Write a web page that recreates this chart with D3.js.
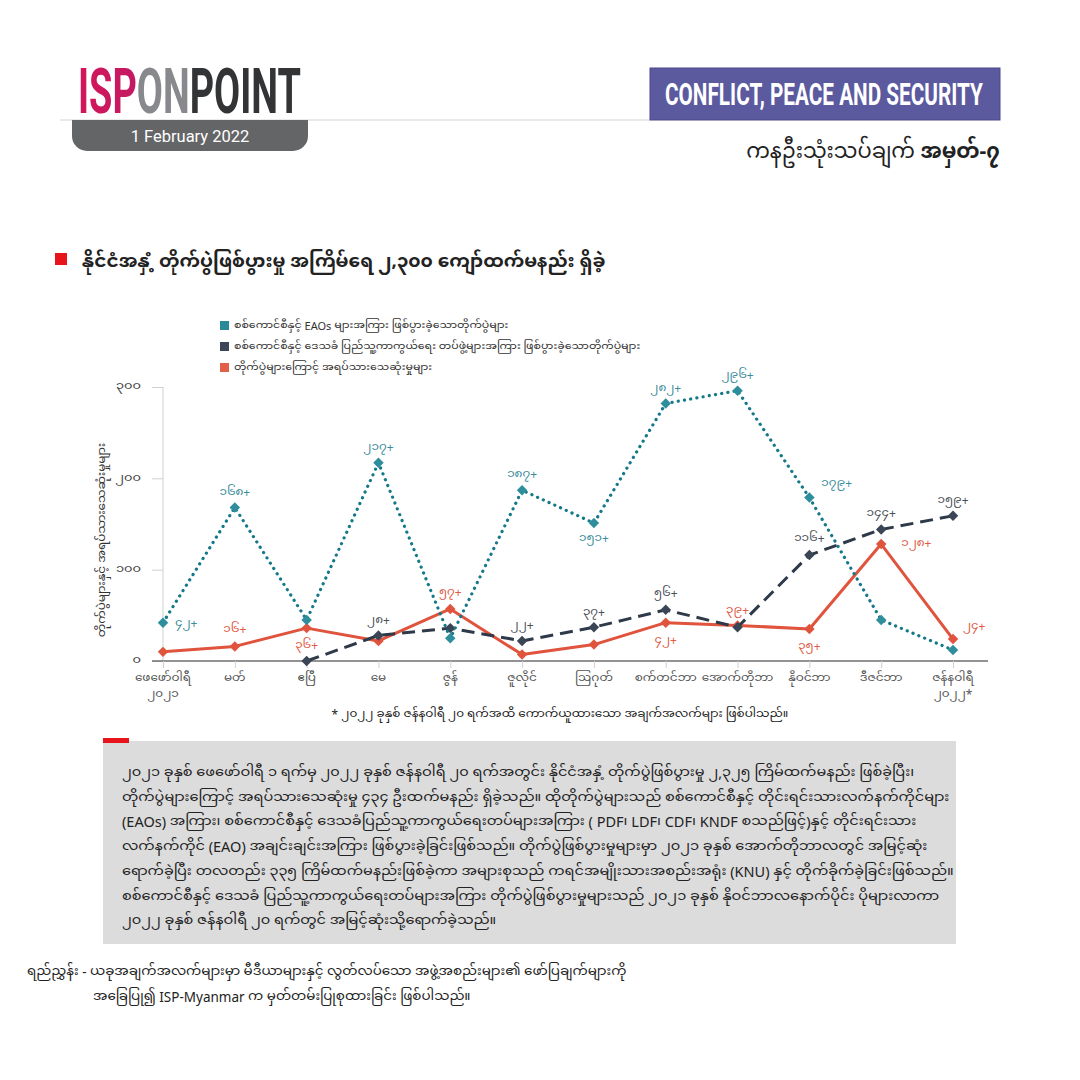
<!DOCTYPE html>
<html><head><meta charset="utf-8">
<script src="https://cdn.jsdelivr.net/npm/d3@7/dist/d3.min.js"></script>
<style>
html,body{margin:0;padding:0;background:#fff;}
svg{display:block;}
</style></head>
<body>
<svg id="c" width="1080" height="1080"></svg>
<script>
// ---------- data ----------
const months = ["ဖေဖော်ဝါရီ|၂၀၂၁","မတ်","ဧပြီ","မေ","ဇွန်","ဇူလိုင်","ဩဂုတ်","စက်တင်ဘာ","အောက်တိုဘာ","နိုဝင်ဘာ","ဒီဇင်ဘာ","ဇန်နဝါရီ|၂၀၂၂*"];
const eaoClashes   = [42,168,45,217,25,187,151,282,296,179,45,12];
const pdfClashes   = [null,null,0,28,36,22,37,56,37,116,144,159];
const civDeaths    = [10,16,36,22,57,7,18,42,39,35,128,24];
// which points carry a value label (1 = labelled)
const eaoLabelled  = [1,1,0,1,0,1,1,1,1,1,0,0];
const pdfLabelled  = [0,0,0,1,0,1,1,1,0,1,1,1];
const civLabelled  = [0,1,1,0,1,0,0,1,1,1,1,1];
const yTicks = [0,100,200,300];
const legendItems = [
 "စစ်ကောင်စီနှင့် EAOs များအကြား ဖြစ်ပွားခဲ့သောတိုက်ပွဲများ",
 "စစ်ကောင်စီနှင့် ဒေသခံ ပြည်သူ့ကာကွယ်ရေး တပ်ဖွဲ့များအကြား  ဖြစ်ပွားခဲ့သောတိုက်ပွဲများ",
 "တိုက်ပွဲများကြောင့် အရပ်သားသေဆုံးမှုများ"
];
const paragraph = [
 "၂၀၂၁ ခုနှစ် ဖေဖော်ဝါရီ ၁ ရက်မှ ၂၀၂၂ ခုနှစ် ဇန်နဝါရီ ၂၀ ရက်အတွင်း နိုင်ငံအနှံ့ တိုက်ပွဲဖြစ်ပွားမှု ၂,၃၂၅ ကြိမ်ထက်မနည်း ဖြစ်ခဲ့ပြီး၊",
 "တိုက်ပွဲများကြောင့် အရပ်သားသေဆုံးမှု ၄၃၄ ဦးထက်မနည်း ရှိခဲ့သည်။ ထိုတိုက်ပွဲများသည် စစ်ကောင်စီနှင့် တိုင်းရင်းသားလက်နက်ကိုင်များ",
 "(EAOs) အကြား၊ စစ်ကောင်စီနှင့် ဒေသခံပြည်သူ့ကာကွယ်ရေးတပ်များအကြား ( PDF၊ LDF၊ CDF၊ KNDF စသည်ဖြင့်)နှင့် တိုင်းရင်းသား",
 "လက်နက်ကိုင် (EAO) အချင်းချင်းအကြား ဖြစ်ပွားခဲ့ခြင်းဖြစ်သည်။ တိုက်ပွဲဖြစ်ပွားမှုများမှာ  ၂၀၂၁ ခုနှစ် အောက်တိုဘာလတွင် အမြင့်ဆုံး",
 "ရောက်ခဲ့ပြီး တလတည်း ၃၃၅ ကြိမ်ထက်မနည်းဖြစ်ခဲ့ကာ အများစုသည် ကရင်အမျိုးသားအစည်းအရုံး (KNU) နှင့် တိုက်ခိုက်ခဲ့ခြင်းဖြစ်သည်။",
 "စစ်ကောင်စီနှင့် ဒေသခံ ပြည်သူ့ကာကွယ်ရေးတပ်များအကြား တိုက်ပွဲဖြစ်ပွားမှုများသည် ၂၀၂၁ ခုနှစ် နိုဝင်ဘာလနောက်ပိုင်း ပိုများလာကာ",
 "၂၀၂၂ ခုနှစ် ဇန်နဝါရီ ၂၀ ရက်တွင် အမြင့်ဆုံးသို့ရောက်ခဲ့သည်။"
];

const mmDigits = "၀၁၂၃၄၅၆၇၈၉";
const toMM = n => String(n).replace(/[0-9]/g, d => mmDigits[+d]);

const svg = d3.select("#c");
const MM = '"Noto Sans Myanmar","Padauk","Myanmar Text","Noto Sans",sans-serif';
const MMUI = '"Noto Sans Myanmar UI","Noto Sans Myanmar","Padauk","Myanmar Text",sans-serif';

function fitX(sel, x0, y0, width){
  const w = sel.node().getComputedTextLength();
  sel.attr("transform",`translate(${x0},${y0}) scale(${width/w},1)`);
}

// ---------- header ----------
const defs = svg.append("defs");
const g1 = defs.append("linearGradient").attr("id","ispg").attr("x1","0").attr("x2","1");
g1.append("stop").attr("offset","0").attr("stop-color","#d2175a");
g1.append("stop").attr("offset","1").attr("stop-color","#9c1f7c");

const logoFont = 'Roboto, "Liberation Sans", sans-serif';
const logo = svg.append("text").attr("font-family",logoFont).attr("font-weight",700).attr("font-size",63);
logo.append("tspan").attr("fill","url(#ispg)").text("ISP");
logo.append("tspan").attr("fill","#88898c").text("ON");
logo.append("tspan").attr("fill","#333436").text("POINT");
fitX(logo, 78, 113, 223);

svg.append("line").attr("x1",60).attr("x2",650).attr("y1",120).attr("y2",120).attr("stroke","#d4d4d4").attr("stroke-width",1);
svg.append("path").attr("d","M72,120 H308 V136 A15,15 0 0 1 293,151 H87 A15,15 0 0 1 72,136 Z")
  .attr("fill","#646567");
svg.append("text").attr("x",190).attr("y",142).attr("text-anchor","middle").attr("fill","#fff")
  .attr("font-family","Roboto, sans-serif").attr("font-size",16.5).text("1 February 2022");

svg.append("rect").attr("x",650).attr("y",68).attr("width",350).attr("height",52).attr("fill","#5c5a9f").attr("stroke","#4a4888").attr("stroke-width",1);
const cps = svg.append("text").attr("fill","#fff").attr("font-family",logoFont).attr("font-weight",700)
  .attr("font-size",31).text("CONFLICT, PEACE AND SECURITY");
fitX(cps, 665, 105, 318);

const sub = svg.append("text").attr("x",1000).attr("y",158).attr("text-anchor","end").attr("fill","#222")
  .attr("font-family",MM).attr("font-size",21);
sub.append("tspan").text("ကနဦးသုံးသပ်ချက် ");
sub.append("tspan").attr("font-weight",700).text("အမှတ်-၇");

// ---------- title ----------
svg.append("rect").attr("x",55).attr("y",253).attr("width",12).attr("height",12).attr("fill","#e8141c");
svg.append("text").attr("x",82).attr("y",267).attr("font-family",MM).attr("font-size",18.5).attr("font-weight",700).attr("fill","#222")
  .text("နိုင်ငံအနှံ့ တိုက်ပွဲဖြစ်ပွားမှု အကြိမ်ရေ ၂,၃၀၀ ကျော်ထက်မနည်း ရှိခဲ့");

// ---------- legend ----------
const legColors = ["#2a8a99","#3b4656","#e0604a"];
legendItems.forEach((t,i)=>{
  const y = 326 + i*21;
  svg.append("rect").attr("x",220).attr("y",y-5).attr("width",9).attr("height",9).attr("fill",legColors[i]);
  svg.append("text").attr("x",234).attr("y",y+4).attr("font-family",MMUI).attr("font-size",11).attr("fill","#333").text(t);
});

// ---------- chart ----------
const x = d3.scalePoint().domain(months).range([163,953]);
const y = d3.scaleLinear().domain([0,300]).range([661,387]);

const yAxis = d3.axisLeft(y).tickValues(yTicks).tickSize(11).tickFormat(d=>toMM(d));
const ya = svg.append("g").attr("transform","translate(163,0)").call(yAxis);
ya.select(".domain").attr("stroke","#d0d0d0").attr("d","M0,661V387");
ya.selectAll(".tick line").attr("stroke","#d0d0d0");
ya.selectAll(".tick text").attr("font-family",MMUI).attr("font-size",13).attr("fill","#444").attr("x",-22).attr("dy","0.3em");

const xAxis = d3.axisBottom(x).tickSize(7).tickFormat("");
const xa = svg.append("g").attr("transform","translate(0,661)").call(xAxis);
xa.select(".domain").attr("d","M152,0H988").attr("stroke","#6f6f6f").attr("stroke-width",1.5);
xa.selectAll(".tick line").attr("stroke","#d0d0d0");
months.forEach(m=>{
  const parts = m.split("|");
  svg.append("text").attr("x",x(m)).attr("y",683).attr("text-anchor","middle")
    .attr("font-family",MMUI).attr("font-size",12).attr("fill","#555").text(parts[0]);
  if(parts[1]) svg.append("text").attr("x",x(m)).attr("y",699).attr("text-anchor","middle")
    .attr("font-family",MMUI).attr("font-size",12).attr("fill","#555").text(parts[1]);
});

svg.append("text").attr("x",560).attr("y",719).attr("text-anchor","middle").attr("font-family",MMUI).attr("font-size",12).attr("fill","#222")
  .text("*  ၂၀၂၂ ခုနှစ် ဇန်နဝါရီ ၂၀ ရက်အထိ ကောက်ယူထားသော အချက်အလက်များ ဖြစ်ပါသည်။");

svg.append("text").attr("transform","translate(107,540) rotate(-90)").attr("text-anchor","middle")
  .attr("font-family",MMUI).attr("font-size",12).attr("fill","#333").text("တိုက်ပွဲများနှင့် အရပ်သားသေဆုံးမှုများ");

const line = d3.line().defined(d=>d.v!==null).x(d=>x(d.m)).y(d=>y(d.v));
const mk = arr => arr.map((v,i)=>({m:months[i], v, i}));
const diamond = d3.symbol().type(d3.symbolDiamond2).size(70);

function series(vals, color, markFill, dash, labelled, labelColor, place){
  const data = mk(vals);
  const p = svg.append("path").datum(data).attr("d",line).attr("fill","none").attr("stroke",color)
    .attr("stroke-width",3).attr("stroke-linejoin","round");
  if(dash==="dot") p.attr("stroke-dasharray","0.1 6.2").attr("stroke-linecap","round").attr("stroke-width",3.2);
  else if(dash) p.attr("stroke-dasharray",dash);
  svg.append("g").selectAll("path").data(data.filter(d=>d.v!==null)).join("path")
    .attr("d",diamond).attr("transform",d=>`translate(${x(d.m)},${y(d.v)})`).attr("fill",markFill);
  svg.append("g").selectAll("text").data(data.filter(d=>d.v!==null && labelled[d.i])).join("text")
    .attr("x",d=>x(d.m)+place[d.i][0]).attr("y",d=>y(d.v)+place[d.i][1]).attr("text-anchor",d=>place[d.i][2]||"middle")
    .attr("font-family",MMUI).attr("font-size",12).attr("fill",labelColor).text(d=>toMM(d.v)+"+");
}
const A=[0,-12], B=[0,22];
const civPlace = [A,A,B,A,A,A,A,B,[0,-10],B,[20,4,"start"],[10,-8,"start"]];
const pdfPlace = [A,A,A,[0,-10],A,[0,-11],[0,-10],[0,-12],A,[0,-12],[0,-11],[0,-11]];
const eaoPlace = [[12,5,"start"],[0,-11],A,[0,-11],A,[0,-11],[0,20],[0,-10],[0,-11],[12,-10,"start"],A,A];

series(civDeaths, "#e0533c", "#e0533c", null, civLabelled, "#e05a45", civPlace);
series(pdfClashes, "#2e3a49", "#3a4555", "13 7", pdfLabelled, "#4a4f57", pdfPlace);
series(eaoClashes, "#137989", "#2e8e9c", "dot", eaoLabelled, "#3a8c9a", eaoPlace);

// ---------- text box ----------
svg.append("rect").attr("x",103).attr("y",741).attr("width",853).attr("height",203).attr("fill","#dcdcdd");
svg.append("rect").attr("x",103).attr("y",738).attr("width",26).attr("height",5).attr("fill","#e8141c");
paragraph.forEach((t,i)=>{
  svg.append("text").attr("x",122).attr("y",778+i*24.7).attr("font-family",MMUI).attr("font-size",14.5).attr("fill","#222").text(t);
});

// ---------- footer ----------
svg.append("text").attr("x",27).attr("y",977).attr("font-family",MMUI).attr("font-size",13.5).attr("fill","#222")
  .text("ရည်ညွှန်း - ယခုအချက်အလက်များမှာ မီဒီယာများနှင့် လွတ်လပ်သော အဖွဲ့အစည်းများ၏ ဖော်ပြချက်များကို");
svg.append("text").attr("x",93).attr("y",1002).attr("font-family",MMUI).attr("font-size",13.5).attr("fill","#222")
  .text("အခြေပြု၍ ISP-Myanmar က မှတ်တမ်းပြုစုထားခြင်း ဖြစ်ပါသည်။");
</script>
</body></html>
